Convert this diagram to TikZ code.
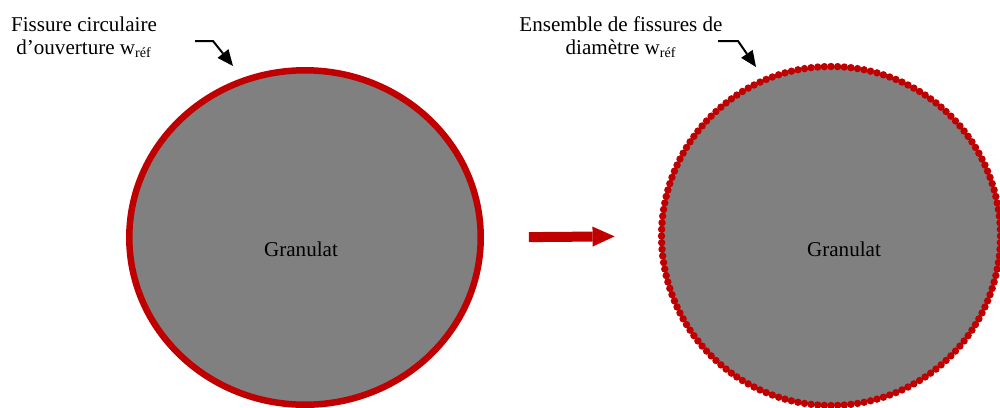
\documentclass[tikz,border=0pt]{standalone}
\usepackage{fontspec}
\setmainfont{Liberation Serif}
\usetikzlibrary{arrows.meta,positioning,shapes.geometric}
\definecolor{fissred}{RGB}{192,0,0}
\definecolor{granugray}{RGB}{128,128,128}

\begin{document}
\begin{tikzpicture}[x=0.02cm, y=-0.02cm, font=\fontsize{12}{13}\selectfont,
      grain/.style={fill=granugray, inner sep=0pt},
      ring/.style={grain, ellipse, draw=fissred, line width=0.13cm},
      caption/.style={align=center, inner sep=0pt, anchor=north},
      pointer/.style={line width=0.04cm, -{Triangle[length=0.32cm, width=0.28cm, line width=0pt]}},
      bigarrow/.style={fissred, line width=0.2cm, -{Triangle[length=0.44cm, width=0.4cm, line width=0pt]}}]
    \useasboundingbox (0,0) rectangle (1000,407);
    \node[ring, minimum width=7.03cm, minimum height=6.69cm] (gl) at (305,237.5) {};
    \node (gltxt) at (301,249) {Granulat};
    \node[grain, circle, minimum size=6.78cm, outer sep=0.07cm] (gr) at (831,236) {};
    \foreach \a in {0,...,159}
      \fill[fissred] (gr.center) ++(\a*2.25:169.5) circle (3.7);
    \node (grtxt) at (844,249) {Granulat};
    \node[caption] (fc) at (84,16.5) {Fissure circulaire\\d’ouverture w\textsubscript{réf}};
    \node[caption] (ef) at (621,16.5) {Ensemble de fissures de\\diamètre w\textsubscript{réf}};
    \coordinate (p1) at (195,41);
    \coordinate (q1) at (233,66);
    \coordinate (p2) at (718,41);
    \coordinate (q2) at (756,67);
    \draw[pointer] (p1) -- ++(18,0) -- (q1);
    \draw[pointer] (p2) -- ++(20,0) -- (q2);
    \draw[bigarrow, shorten <=0.9cm, shorten >=0.87cm] (gl.east) -- (gr.west);
  \end{tikzpicture}
\end{document}
